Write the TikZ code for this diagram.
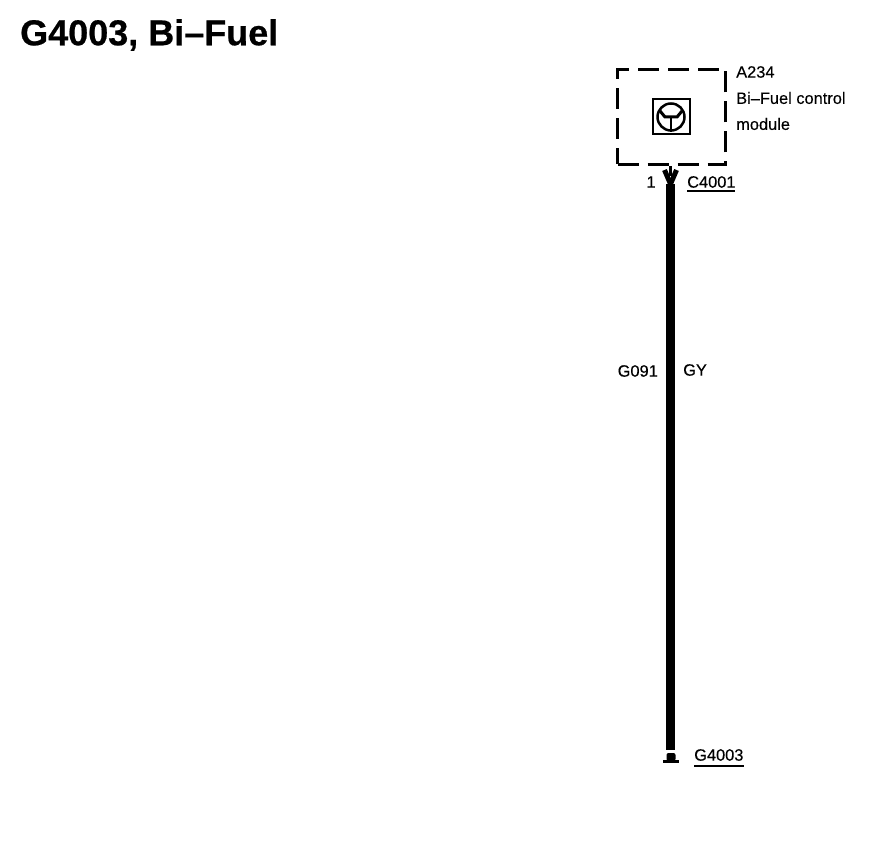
\documentclass[tikz,border=0pt]{standalone}
\usepackage{fontspec}
\setmainfont{Liberation Sans}[FakeBold=0.25]
\newfontfamily\titlefont{Liberation Sans Bold}[FakeBold=0.5, Ligatures=TeX]
\tikzset{
    small label/.style={inner sep=0pt, font=\fontsize{16.4}{18}\selectfont},
    name label/.style={small label, anchor=west},
    module box/.style={draw, line width=3.5pt, dash pattern=on 21pt off 9pt, minimum width=108pt, minimum height=95pt, inner sep=0pt},
    wire/.style={line width=8.5pt},
    thin line/.style={line width=1.8pt}
}
\begin{document}
\begin{tikzpicture}[x=1pt, y=-1pt]
        \useasboundingbox (0,0) rectangle (896,858);

        % The title
        \node[anchor=west, inner sep=0pt, font=\titlefont\fontsize{36}{40}\selectfont] (title) at (20,35) {G4003, Bi--Fuel};

        % the dashed box of the module
        \node[module box] (module) at (671.5,117) {};
        % the square in the module
        \node[draw, line width=2.5pt, minimum width=37pt, minimum height=35pt, inner sep=0pt] (symbol) at (671.5,116.5) {};
        % the circle in the square
        \node[draw, circle, line width=2.5pt, minimum size=27pt, inner sep=0pt] (ring) at (671,117) {};
        % the transistor in the circle
        \draw[line width=3pt] (660,111) -- (665,117) -- (677,117) -- (682,111);
        \draw[line width=2pt] (671,117) -- (ring.south);

        % The labels of the module
        \node[name label] (modulename) at (736,72) {A234};
        \node[name label] (moduletext1) at (736,98) {Bi--Fuel control};
        \node[name label] (moduletext2) at (736,124) {module};

        % The ground below the wire
        \coordinate (wireend) at (670.5,750);
        \node[fill=black, rounded corners=2pt, minimum width=9pt, minimum height=8pt, inner sep=0pt] (bump) at (671,757) {};
        \node[fill=black, minimum width=16pt, minimum height=3.5pt, inner sep=0pt] (ground) at (671,761.5) {};

        % The fork at the top of the wire
        \coordinate (forktop) at (670.5,184);
        \draw[line width=5pt] (664.5,170) -- (forktop);
        \draw[line width=5pt] (676.5,170) -- (forktop);
        \draw[line width=3pt] (module.south -| forktop) -- (670.5,176);
        % The wire
        \draw[wire] (forktop) -- (wireend);

        % The connector label
        \node[small label] (pin) at (651,182) {1};
        \node[name label] (connector) at (687,182) {C4001};
        \draw[thin line] (connector.south west) ++(0,3) -- ++(48,0);

        % The labels of the wire
        \node[small label, anchor=east] (circuit) at (658,371) {G091};
        \node[name label] (colour) at (683,370) {GY};

        % The label of the ground
        \node[name label] (groundname) at (694,755) {G4003};
        \draw[thin line] (groundname.south west) ++(0,5) -- ++(50,0);
    \end{tikzpicture}
\end{document}
